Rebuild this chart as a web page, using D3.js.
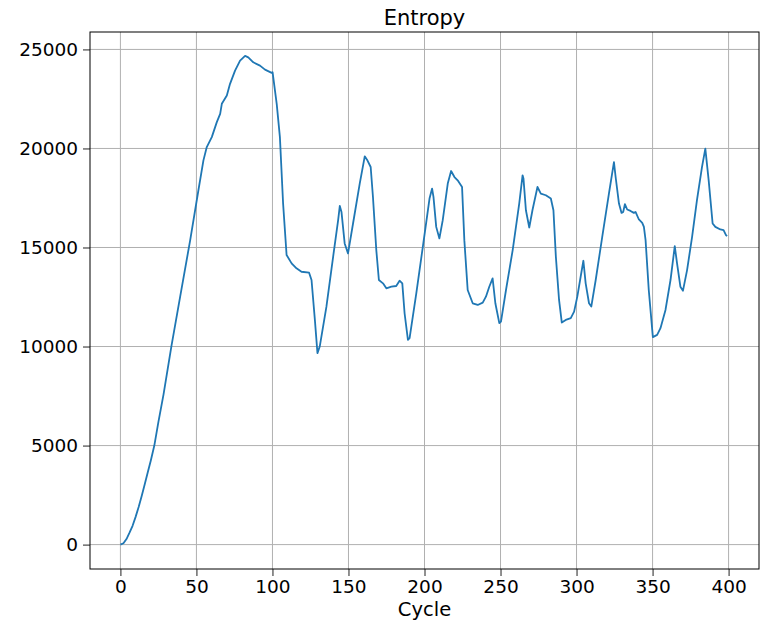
<!DOCTYPE html>
<html><head><meta charset="utf-8">
<script src="https://cdn.jsdelivr.net/npm/d3@7"></script>
<style>body{margin:0;background:#fff}svg{display:block}text{font-family:"DejaVu Sans",sans-serif}</style>
</head><body><svg id="c" width="762" height="623"></svg>
<script>
const cycles = [0,2,4,6,8,10,12,14,16,18,20,22.3,25,28.4,33.5,39.3,45.9,51.3,54.6,56.8,60.1,63.4,65.6,66.7,70,72.1,75.4,78.7,82,84.1,87.4,91.8,95.1,99.5,100.1,102.8,104.9,107,109.3,112.6,115.8,119.1,124.1,125.7,127.9,129.6,131.1,135.5,139.9,143.2,144.3,145.4,147.5,149.7,153,157.4,160.7,162.2,164.6,166.1,168.3,170,172.7,174.9,178.2,181.4,183.6,185.4,186.9,189.1,190.2,194.6,198.9,203.3,205,205.9,207.7,209.8,212,215.3,217.5,219.7,221.8,224.7,226.2,228.4,231.7,235,238.3,240.4,242.6,244.8,246.6,249.2,250.3,253.6,258,262.3,264.5,265.1,266.7,268.9,271,274.3,276.5,279.8,283.1,284.8,286.4,288.5,290.3,292.9,296.2,298.4,300.5,302.7,304.5,306,308.2,309.7,312.6,316.9,321.3,324.6,325.7,327.9,329.6,330.7,331.8,333.3,335.5,337.7,338.8,341,343.2,344.3,345.4,347.5,350.2,353,355.2,358.5,361.8,364.6,366.1,368.3,370,372.7,376,379.2,382.5,384.7,386.9,389.5,391.3,394.6,396.7,398.3,399];
const entropy = [0,70,280,600,950,1400,1900,2450,3050,3650,4250,5000,6200,7600,10000,12517,15372,17890,19400,20070,20573,21328,21750,22254,22672,23262,23930,24434,24671,24600,24350,24183,23980,23815,23846,22254,20573,17220,14617,14200,13947,13776,13726,13358,11344,9667,10000,12013,14531,16379,17099,16797,15206,14703,16212,18226,19601,19433,19064,17552,14868,13358,13191,12940,13020,13056,13323,13190,11680,10337,10420,12688,15034,17472,17975,17552,16041,15457,16379,18226,18861,18559,18393,18056,15372,12854,12184,12099,12215,12517,13020,13443,12184,11178,11258,12854,14868,17220,18645,18478,16882,16011,16882,18056,17723,17637,17472,16882,14531,12351,11208,11344,11430,11762,12517,13524,14330,13190,12184,12016,13358,15538,17723,19314,18559,17220,16747,16797,17185,16918,16847,16747,16797,16414,16243,16041,15372,12854,10473,10589,10926,11847,13358,15070,14198,13020,12819,13861,15538,17386,19062,19988,18393,16212,16041,15911,15876,15624,15573];
const xTicks = [0,50,100,150,200,250,300,350,400];
const yTicks = [0,5000,10000,15000,20000,25000];
const title = "Entropy", xLabel = "Cycle";

const m = {l:90, t:32, r:759, b:569};
const svg = d3.select("#c");
const x = d3.scaleLinear().domain([-20,420]).range([m.l,m.r]);
const y = d3.scaleLinear().domain([-1232,25880]).range([m.b,m.t]);

// grid
svg.append("g").selectAll("line").data(xTicks).join("line")
  .attr("x1",d=>x(d)).attr("x2",d=>x(d)).attr("y1",m.t).attr("y2",m.b)
  .attr("stroke","#b0b0b0").attr("stroke-width",1);
svg.append("g").selectAll("line").data(yTicks).join("line")
  .attr("y1",d=>y(d)).attr("y2",d=>y(d)).attr("x1",m.l).attr("x2",m.r)
  .attr("stroke","#b0b0b0").attr("stroke-width",1);

// line
const pts = cycles.map((c,i)=>[c,entropy[i]]);
svg.append("path").datum(pts)
  .attr("d", d3.line().x(d=>x(d[0])).y(d=>y(d[1])))
  .attr("fill","none").attr("stroke","#1f77b4").attr("stroke-width",1.8)
  .attr("stroke-linejoin","round");

// axes
const xa = svg.append("g").attr("transform",`translate(0,${m.b})`)
  .call(d3.axisBottom(x).tickValues(xTicks).tickSize(7).tickPadding(4).tickFormat(d3.format("d")));
const ya = svg.append("g").attr("transform",`translate(${m.l},0)`)
  .call(d3.axisLeft(y).tickValues(yTicks).tickSize(7).tickPadding(5).tickFormat(d3.format("d")));
[xa,ya].forEach(a=>{
  a.select(".domain").remove();
  a.selectAll("text").attr("font-size",18.5).attr("fill","#000").style("font-family","DejaVu Sans");
  a.selectAll("line").attr("stroke","#222");
});
svg.append("rect").attr("x",m.l).attr("y",m.t).attr("width",m.r-m.l).attr("height",m.b-m.t)
  .attr("fill","none").attr("stroke","#000").attr("stroke-width",1);

svg.append("text").attr("x",(m.l+m.r)/2).attr("y",25).attr("text-anchor","middle")
  .attr("font-size",21).text(title);
svg.append("text").attr("x",(m.l+m.r)/2).attr("y",616).attr("text-anchor","middle")
  .attr("font-size",19.5).text(xLabel);
</script></body></html>
